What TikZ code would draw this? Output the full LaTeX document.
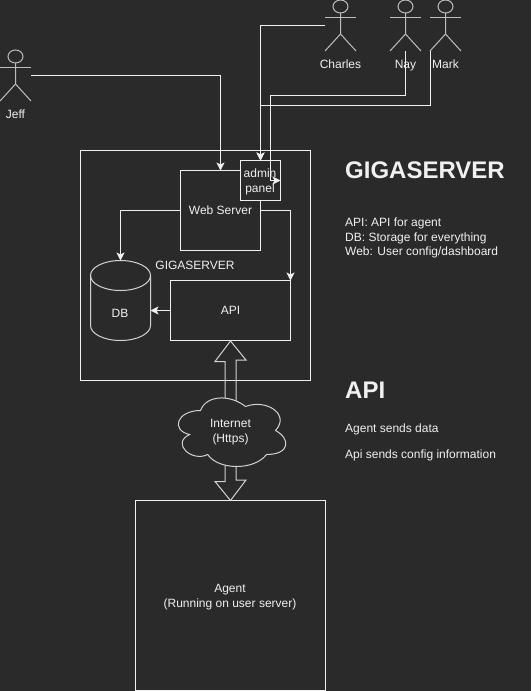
\documentclass[tikz,border=0pt]{standalone}
\usepackage{fontspec}
\setmainfont{Liberation Sans}
\usetikzlibrary{shapes,arrows.meta,positioning}
\definecolor{bgdark}{HTML}{2A2A2A}
\definecolor{inkwhite}{HTML}{F0F0F0}

% stick figure: name, x, y of centre, label
\newcommand{\stickman}[4]{
  \node [actorbox] (#1) at (#2,#3) {};
  \draw [figure] (#1.north) ++(0,6.5) ellipse [x radius=7.5, y radius=6.5];
  \draw [figure] (#1.west |- 0,#3-8.5) -- (#1.east |- 0,#3-8.5);
  \draw [figure] (#1.north) ++(0,13) -- (#2,#3+8.5) -- (#1.south west);
  \draw [figure] (#2,#3+8.5) -- (#1.south east);
  \node [label text, below=9pt of #1.south] (#1label) {#4};
}

\begin{document}
\begin{tikzpicture}[
    x=1pt, y=-1pt,
    every node/.style={text=inkwhite, font=\fontsize{12}{15}\selectfont},
    box/.style={rectangle, draw=inkwhite, line width=1pt, outer sep=0pt, inner sep=0pt, align=center},
    actorbox/.style={rectangle, minimum width=31pt, minimum height=51pt, outer sep=0pt, inner sep=0pt},
    figure/.style={draw=inkwhite!75!bgdark, line width=1pt},
    label text/.style={inner sep=0pt, align=center},
    sidetext/.style={anchor=west, inner sep=0pt},
    heading/.style={anchor=west, inner sep=0pt, font=\fontsize{24}{29}\selectfont\bfseries},
    link/.style={draw=inkwhite, line width=1pt, -{Stealth[length=8pt, width=8pt, inset=2pt]}}
]
\useasboundingbox (0,0) rectangle (531,691);
\fill [bgdark] (0,0) rectangle (531,691);

% Actors
\stickman{jeff}{15.5}{75.5}{Jeff}
\stickman{charles}{340.5}{25.5}{Charles}
\stickman{nay}{405.5}{25.5}{Nay}
\stickman{mark}{445.5}{25.5}{Mark}

% Boxes
\node [box, minimum width=230pt, minimum height=230pt] (gigaserver) at (195.5,265.5) {};
\node [label text] (gigalabel) at (195,265) {GIGASERVER};
\node [box, minimum width=80pt, minimum height=80pt] (webserver) at (220.5,210.5) {Web Server};
\node [box, fill=bgdark, minimum width=40pt, minimum height=40pt] (admin) at (260.5,180.5) {};
\node [label text] (adminlabel) at (260,182) {admin\\panel};
\node [box, minimum width=120pt, minimum height=60pt] (api) at (230.5,310.5) {API};
\node [minimum width=60pt, minimum height=80pt, outer sep=0pt, inner sep=0pt] (db) at (120.5,300.5) {};
\draw [draw=inkwhite!85!bgdark, line width=1pt] (db.north) ++(0,15) ellipse [x radius=30, y radius=15];
\draw [draw=inkwhite!85!bgdark, line width=1pt] (90.5,275.5) -- (90.5,325.5) arc [start angle=180, end angle=0, x radius=30, y radius=15] -- (150.5,275.5);
\node [label text] (dblabel) at (120,313) {DB};
\node [box, minimum width=190pt, minimum height=190pt] (agent) at (230.5,595.5) {};
\node [label text] (agentlabel) at (230,597) {Agent\\(Running on user server)};

% Internet
\draw [draw=inkwhite!85!bgdark, line width=1pt] (api.south) ++(0,0.5) -- ++(15.5,19) -- ++(-10,0) -- ++(0,120) -- ++(10,0)
  -- (agent.north) -- ++(-15.5,-19) -- ++(10,0) -- ++(0,-120) -- ++(-10,0) -- cycle;
\draw [draw=inkwhite!85!bgdark, line width=1pt, fill=bgdark, shift={(170.5,390.5)}, x=120pt, y=-80pt]
  (0.25,0.25) .. controls (0.05,0.25) and (0,0.5) .. (0.16,0.55)
  .. controls (0,0.66) and (0.18,0.9) .. (0.31,0.8)
  .. controls (0.4,1) and (0.7,1) .. (0.8,0.8)
  .. controls (1,0.8) and (1,0.6) .. (0.875,0.5)
  .. controls (1,0.3) and (0.8,0.1) .. (0.625,0.2)
  .. controls (0.5,0.05) and (0.3,0.05) .. (0.25,0.25) -- cycle;
\node [label text, minimum width=120pt, minimum height=80pt] (internet) at (230.5,432) {Internet\\(Https)};

% Edges
\coordinate (naybend) at (270.5,95.5);
\path [link] (jeff.east) -| (webserver.north);
\path [link] (charles.west) -| (admin.north);
\path [link] (nay.south) |- (naybend) |- (admin.east);
\path [link] (mark.south west) |- (260.5,105.5) -- (admin.north);
\path [link] (webserver.west) -| (db.north);
\path [link] (webserver.east) -| (api.north east);
\path [link] (api.west) -- (api.west -| db.east);

% Side text
\node [heading] (title1) at (345,170) {GIGASERVER};
\node [sidetext] (line1) at (345,223) {API: API for agent};
\node [sidetext] (line2) at (345,238) {DB: Storage for everything};
\node [sidetext] (line3) at (345,252) {Web: User config/dashboard};
\node [heading] (title2) at (345,390) {API};
\node [sidetext] (line4) at (345,429) {Agent sends data};
\node [sidetext] (line5) at (345,455) {Api sends config information};

\end{tikzpicture}
\end{document}
